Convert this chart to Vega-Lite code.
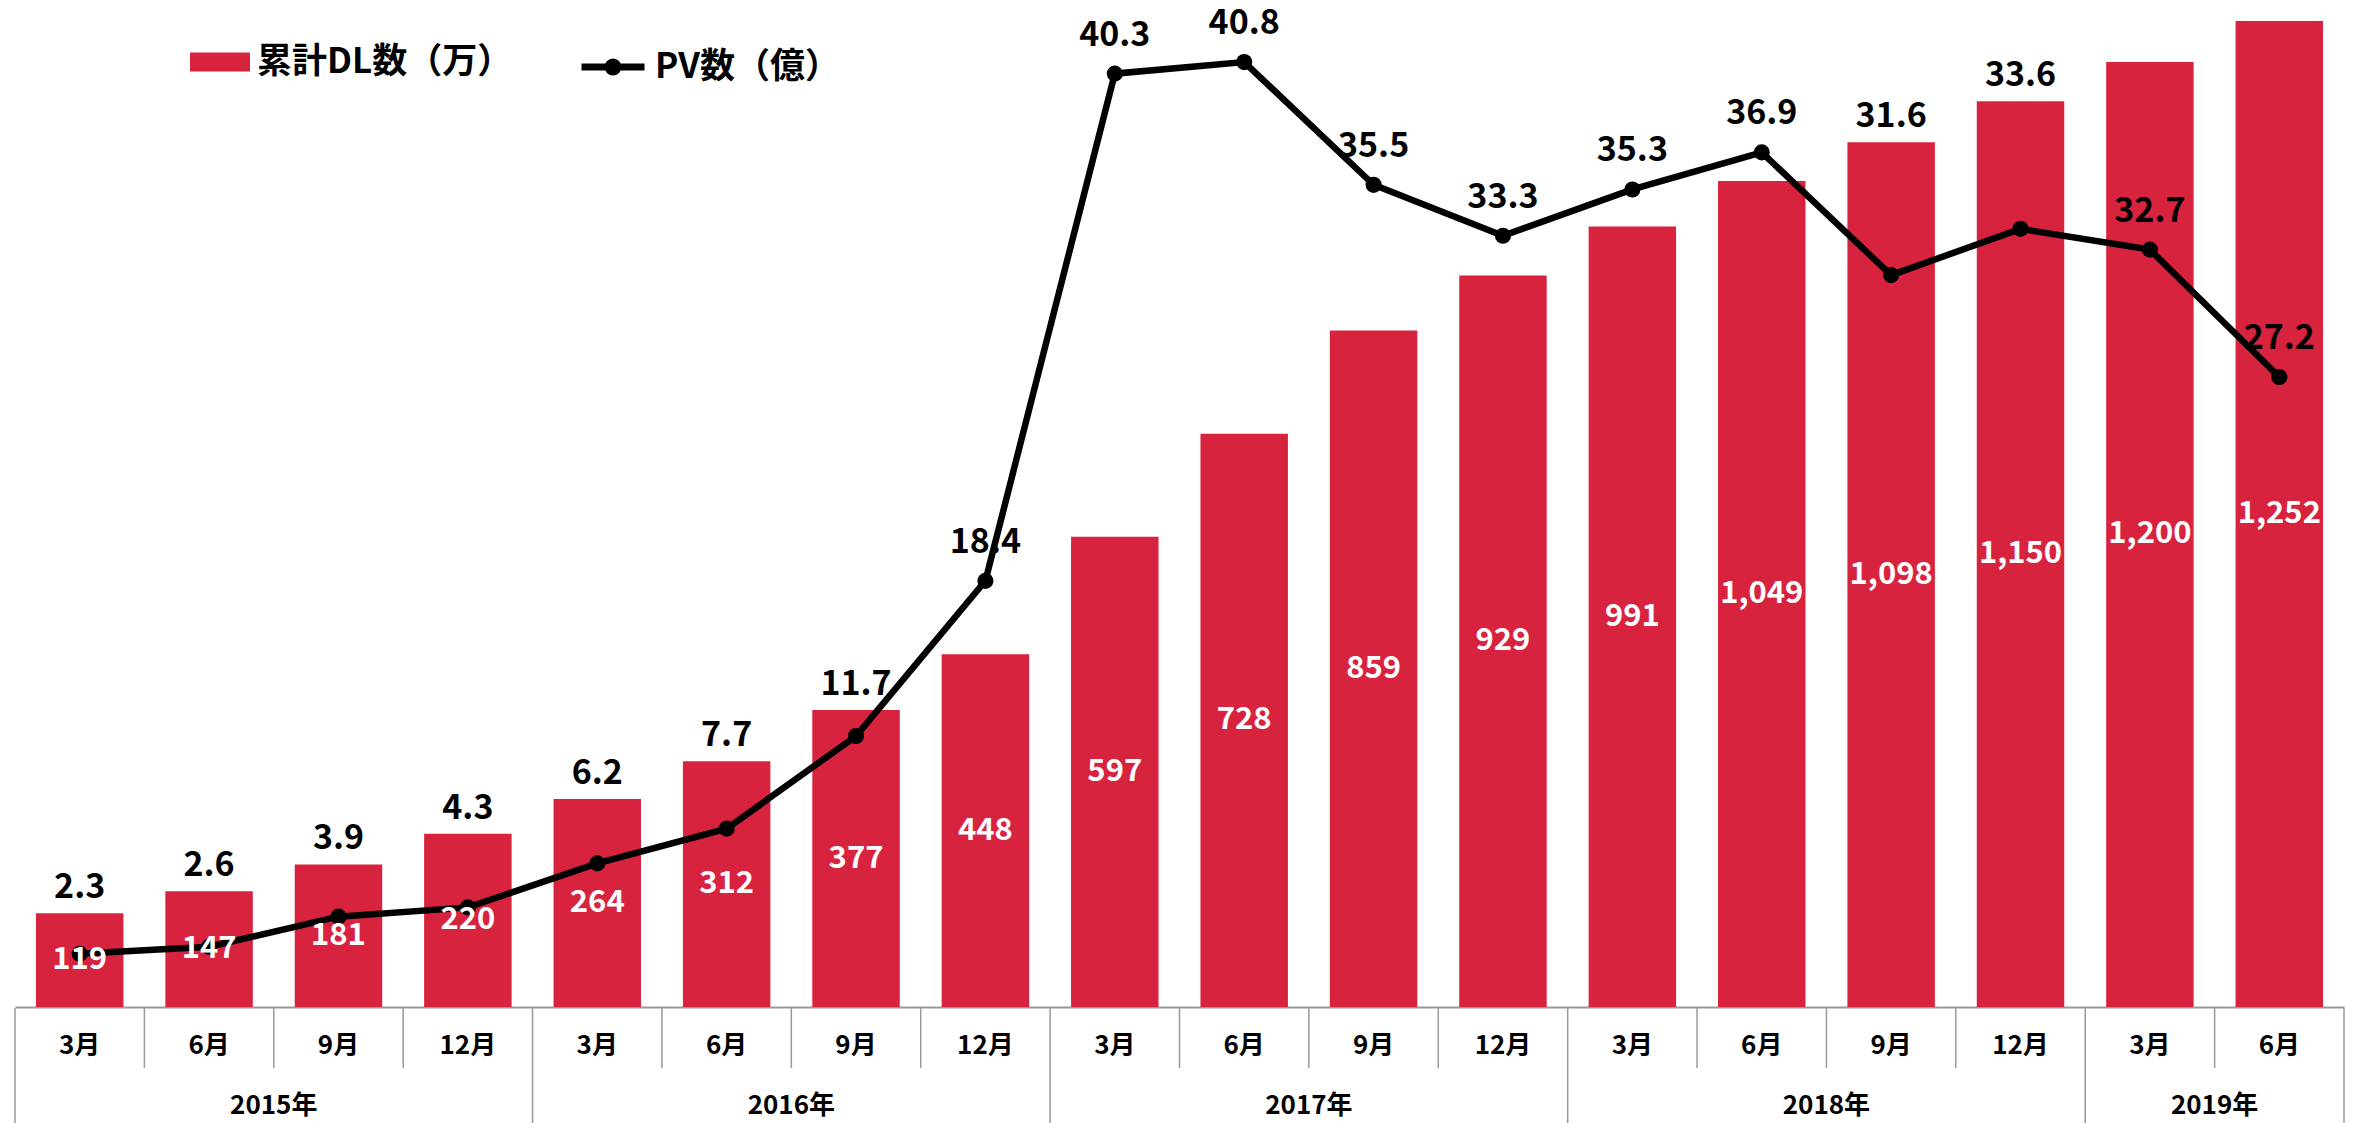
{
  "$schema": "https://vega.github.io/schema/vega-lite/v6.json",
  "padding": {"left": 14, "top": 0, "right": 0, "bottom": 0},
  "spacing": 0,
  "config": {
    "view": {"stroke": null},
    "font": "Noto Sans CJK JP",
    "legend": {"labelFont": "Noto Sans CJK JP", "labelFontSize": 35, "labelFontWeight": "bold", "labelColor": "#000", "padding": 0, "labelOffset": 7, "labelLimit": 0, "title": null}
  },
  "datasets": {
    "q": [
      {"key": "2015-03", "year": "2015年", "month": "3月", "dl": 119, "pv": 2.3},
      {"key": "2015-06", "year": "2015年", "month": "6月", "dl": 147, "pv": 2.6},
      {"key": "2015-09", "year": "2015年", "month": "9月", "dl": 181, "pv": 3.9},
      {"key": "2015-12", "year": "2015年", "month": "12月", "dl": 220, "pv": 4.3},
      {"key": "2016-03", "year": "2016年", "month": "3月", "dl": 264, "pv": 6.2},
      {"key": "2016-06", "year": "2016年", "month": "6月", "dl": 312, "pv": 7.7},
      {"key": "2016-09", "year": "2016年", "month": "9月", "dl": 377, "pv": 11.7},
      {"key": "2016-12", "year": "2016年", "month": "12月", "dl": 448, "pv": 18.4},
      {"key": "2017-03", "year": "2017年", "month": "3月", "dl": 597, "pv": 40.3},
      {"key": "2017-06", "year": "2017年", "month": "6月", "dl": 728, "pv": 40.8},
      {"key": "2017-09", "year": "2017年", "month": "9月", "dl": 859, "pv": 35.5},
      {"key": "2017-12", "year": "2017年", "month": "12月", "dl": 929, "pv": 33.3},
      {"key": "2018-03", "year": "2018年", "month": "3月", "dl": 991, "pv": 35.3},
      {"key": "2018-06", "year": "2018年", "month": "6月", "dl": 1049, "pv": 36.9},
      {"key": "2018-09", "year": "2018年", "month": "9月", "dl": 1098, "pv": 31.6},
      {"key": "2018-12", "year": "2018年", "month": "12月", "dl": 1150, "pv": 33.6},
      {"key": "2019-03", "year": "2019年", "month": "3月", "dl": 1200, "pv": 32.7},
      {"key": "2019-06", "year": "2019年", "month": "6月", "dl": 1252, "pv": 27.2}
    ]
  },
  "vconcat": [
    {
      "width": 2329,
      "height": 1007,
      "data": {"name": "q"},
      "transform": [{"calculate": "datum.dl / 2", "as": "dlMid"}],
      "encoding": {
        "x": {"field": "key", "type": "nominal", "sort": null,
              "scale": {"paddingInner": 0.324, "paddingOuter": 0.162},
              "axis": {"labels": false, "ticks": false, "title": null, "domain": true, "domainColor": "#999", "domainWidth": 2, "grid": false}}
      },
      "layer": [
        {
          "mark": {"type": "bar"},
          "encoding": {
            "y": {"field": "dl", "type": "quantitative", "scale": {"domain": [0, 1278.7]}, "axis": null},
            "fill": {"datum": "累計DL数（万）", "type": "nominal", "scale": {"range": ["#D8233F"]},
                     "legend": {"orient": "none", "legendX": 175, "legendY": 32, "symbolType": "M-1,-0.32H1V0.32H-1Z", "symbolSize": 3600, "symbolStrokeWidth": 0, "symbolOpacity": 1}}
          }
        },
        {
          "mark": {"type": "line", "strokeWidth": 6.5},
          "encoding": {
            "y": {"field": "pv", "type": "quantitative", "scale": {"domain": [0, 43.48]}, "axis": null},
            "stroke": {"datum": "PV数（億）", "type": "nominal", "scale": {"range": ["#000"]},
                       "legend": {"orient": "none", "legendX": 563, "legendY": 32, "symbolType": "M-1,0H1M-0.16,0A0.16,0.16 0 1,0 0.16,0A0.16,0.16 0 1,0 -0.16,0Z", "symbolSize": 3969, "symbolStrokeWidth": 7, "symbolFillColor": "#000", "symbolOpacity": 1}}
          }
        },
        {
          "mark": {"type": "point", "filled": true, "size": 260, "opacity": 1, "color": "#000"},
          "encoding": {
            "y": {"field": "pv", "type": "quantitative", "scale": {"domain": [0, 43.48]}, "axis": null}
          }
        },
        {
          "mark": {"type": "text", "color": "#fff", "fontSize": 31, "fontWeight": "bold", "baseline": "middle", "align": "center"},
          "encoding": {
            "y": {"field": "dlMid", "type": "quantitative", "scale": {"domain": [0, 1278.7]}, "axis": null},
            "text": {"field": "dl", "type": "quantitative", "format": ","}
          }
        },
        {
          "transform": [{"filter": "!(datum.dl * 0.034 > datum.pv && datum.dl * 0.034 < 40)"}],
          "mark": {"type": "text", "color": "#000", "fontSize": 34, "fontWeight": "bold", "baseline": "middle", "align": "center", "dy": -38},
          "encoding": {
            "y": {"field": "pv", "type": "quantitative", "scale": {"domain": [0, 43.48]}, "axis": null},
            "text": {"field": "pv", "type": "quantitative", "format": ".1f"}
          }
        },
        {
          "transform": [{"filter": "datum.dl * 0.034 > datum.pv && datum.dl * 0.034 < 40"}],
          "mark": {"type": "text", "color": "#000", "fontSize": 34, "fontWeight": "bold", "baseline": "middle", "align": "center", "dy": -25},
          "encoding": {
            "y": {"field": "dl", "type": "quantitative", "scale": {"domain": [0, 1278.7]}, "axis": null},
            "text": {"field": "pv", "type": "quantitative", "format": ".1f"}
          }
        }
      ],
      "resolve": {"scale": {"y": "independent"}}
    },
    {
      "width": 2329,
      "height": 116,
      "data": {"name": "q"},
      "transform": [
        {"window": [{"op": "row_number", "as": "n"}]},
        {"calculate": "datum.n - 1", "as": "left"},
        {"calculate": "datum.n - 0.5", "as": "mid"},
        {"joinaggregate": [{"op": "min", "field": "n", "as": "yFirst"}, {"op": "max", "field": "n", "as": "yLast"}], "groupby": ["year"]},
        {"joinaggregate": [{"op": "max", "field": "n", "as": "nMax"}]},
        {"calculate": "(datum.yFirst - 1 + datum.yLast) / 2", "as": "yMid"}
      ],
      "layer": [
        {
          "transform": [{"filter": "datum.n != datum.yFirst"}],
          "mark": {"type": "rule", "color": "#999", "strokeWidth": 1.5},
          "encoding": {
            "x": {"field": "left", "type": "quantitative", "scale": {"domain": [0, 18]}, "axis": null},
            "y": {"datum": 0, "type": "quantitative", "scale": {"domain": [0, 1.933], "reverse": true}, "axis": null},
            "y2": {"datum": 1}
          }
        },
        {
          "transform": [{"filter": "datum.n == datum.yFirst"}],
          "mark": {"type": "rule", "color": "#999", "strokeWidth": 1.5},
          "encoding": {
            "x": {"field": "left", "type": "quantitative", "scale": {"domain": [0, 18]}, "axis": null}
          }
        },
        {
          "transform": [{"filter": "datum.n == datum.nMax"}],
          "mark": {"type": "rule", "color": "#999", "strokeWidth": 1.5},
          "encoding": {
            "x": {"field": "n", "type": "quantitative", "scale": {"domain": [0, 18]}, "axis": null}
          }
        },
        {
          "mark": {"type": "text", "color": "#000", "fontSize": 26, "fontWeight": "bold", "baseline": "middle", "align": "center"},
          "encoding": {
            "x": {"field": "mid", "type": "quantitative", "scale": {"domain": [0, 18]}, "axis": null},
            "y": {"datum": 0.63, "type": "quantitative", "scale": {"domain": [0, 1.933], "reverse": true}, "axis": null},
            "text": {"field": "month", "type": "nominal"}
          }
        },
        {
          "transform": [{"filter": "datum.n == datum.yFirst"}],
          "mark": {"type": "text", "color": "#000", "fontSize": 26, "fontWeight": "bold", "baseline": "middle", "align": "center"},
          "encoding": {
            "x": {"field": "yMid", "type": "quantitative", "scale": {"domain": [0, 18]}, "axis": null},
            "y": {"datum": 1.633, "type": "quantitative", "scale": {"domain": [0, 1.933], "reverse": true}, "axis": null},
            "text": {"field": "year", "type": "nominal"}
          }
        }
      ]
    }
  ]
}
